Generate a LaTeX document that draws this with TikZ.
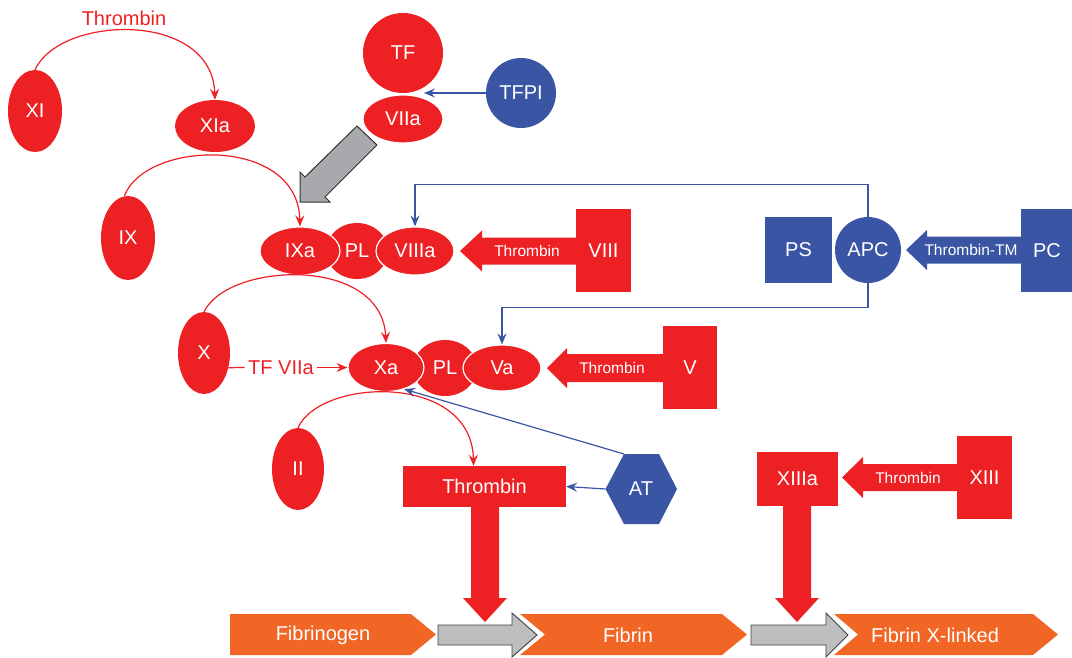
\documentclass[tikz,border=0pt]{standalone}
\usepackage{fontspec}
\setmainfont{Liberation Sans}
\usetikzlibrary{shapes.geometric,arrows.meta,calc}
\definecolor{fred}{HTML}{ED2024}
\definecolor{fblue}{HTML}{3A55A4}
\definecolor{forange}{HTML}{F16624}
\definecolor{fgray}{HTML}{A7A9AC}
\definecolor{lgray}{HTML}{BCBEC0}
\begin{document}
\begin{tikzpicture}[x=1pt,y=-1pt,
  lbl/.style={font=\fontsize{20}{24}\selectfont, text=white},
  small/.style={font=\fontsize{15.5}{18}\selectfont, text=white},
  rell/.style={ellipse, fill=fred, inner sep=0pt, lbl},
  wedge/.style={draw=white, line width=1.2pt},
  rbox/.style={rectangle, fill=fred, inner sep=0pt, lbl},
  bbox/.style={rectangle, fill=fblue, inner sep=0pt, lbl},
  redarr/.style={draw=fred, line width=1.2pt, -{Stealth[length=11pt,width=9pt,inset=4pt]}},
  bluearr/.style={draw=fblue, line width=1.2pt, -{Stealth[length=11pt,width=9pt,inset=4pt]}},
  redtxt/.style={font=\fontsize{20}{24}\selectfont, text=fred},
  chev/.style={fill=forange},
  garr/.style={fill=lgray, draw=black!75, line width=0.9pt},
]
\useasboundingbox (0,0) rectangle (1072,657);

% ---------- top: XI -> XIa ----------
\node[rell, minimum width=54pt, minimum height=82pt] (XI) at (35,111) {XI};
\node[rell, minimum width=80pt, minimum height=52pt] (XIa) at (215,126) {XIa};
\node[redtxt] (thr0) at (124,18) {Thrombin};
\draw[redarr] (XI.north) .. controls (60,15) and (212,10) .. (XIa.north);

% ---------- TF / VIIa / TFPI ----------
\node[circle, fill=fred, inner sep=0pt, minimum size=80pt, lbl] (TF) at (403,53) {TF};
\node[rell, wedge, minimum width=80pt, minimum height=48pt] (VIIa) at (403,119) {VIIa};
\node[circle, fill=fblue, inner sep=0pt, minimum size=70pt, lbl] (TFPI) at (521,93) {TFPI};
\coordinate (TFj) at (424,93);
\draw[bluearr] (TFPI.west) -- (TFj);

% big gray arrow VIIa -> IXa
\draw[fill=fgray, draw=black!80, line width=1pt, line join=miter]
  (300,202) -- (300,172) -- (305,177) -- (357,126) -- (377,145) -- (325,197) -- (330,202) -- cycle;

% ---------- IX -> IXa, PL, VIIIa ----------
\node[rell, minimum width=54pt, minimum height=84pt] (IX) at (128,238) {IX};
\node[rell, minimum width=62pt, minimum height=56pt] (PL1) at (357,251) {PL};
\node[rell, wedge, minimum width=80pt, minimum height=48pt] (IXa) at (300,251) {IXa};
\node[rell, wedge, minimum width=78pt, minimum height=48pt] (VIIIa) at (415,251) {VIIIa};
\draw[redarr] (IX.95) .. controls (145,140) and (298,135) .. (IXa.north);

\node[rbox, minimum width=55pt, minimum height=83pt] (VIII) at (603.5,250.5) {VIII};
\fill[fred] (577,237.5) -- (482,237.5) -- (482,230.5) -- (460,251) -- (482,271.5) -- (482,264.5) -- (577,264.5) -- cycle;
\node[small] (thr1) at (527,251) {Thrombin};

% ---------- PS / APC / PC ----------
\node[bbox, minimum width=67pt, minimum height=66pt] (PS) at (798.5,250) {PS};
\node[circle, fill=fblue, inner sep=0pt, minimum size=66pt, lbl] (APC) at (868,250) {APC};
\node[bbox, minimum width=52pt, minimum height=83pt] (PC) at (1047,250.5) {PC};
\fill[fblue] (1022,236.5) -- (927,236.5) -- (927,230) -- (906,250) -- (927,270) -- (927,263.5) -- (1022,263.5) -- cycle;
\node[small] (thrTM) at (971,250) {Thrombin-TM};

% ---------- X -> Xa, PL, Va ----------
\node[rell, minimum width=52pt, minimum height=82pt] (X) at (204,353) {X};
\node[rell, minimum width=64pt, minimum height=56pt] (PL2) at (445,368) {PL};
\node[rell, wedge, minimum width=76pt, minimum height=48pt] (Xa) at (386,367.5) {Xa};
\node[rell, wedge, minimum width=78pt, minimum height=46pt] (Va) at (502,368) {Va};
\draw[redarr] (X.north) .. controls (228,262) and (382,255) .. (Xa.north);
\node[redtxt] (tfv) at (281,367.5) {TF VIIa};
\draw[draw=fred, line width=1.2pt] (X.-31) -- (tfv.west);
\draw[redarr] (tfv.east) -- (Xa.west);

\node[rbox, minimum width=54pt, minimum height=83pt] (V) at (690,367.5) {V};
\fill[fred] (664,354) -- (567,354) -- (567,348) -- (547,368) -- (567,388) -- (567,382) -- (664,382) -- cycle;
\node[small] (thr2) at (612,368) {Thrombin};

% APC feedback lines
\draw[bluearr] (APC.north) -- ++(0,-32) -| (VIIIa.north);
\draw[bluearr] (APC.south) -- ++(0,24) -| (Va.north);

% ---------- II -> Thrombin, AT ----------
\node[rell, minimum width=52pt, minimum height=82pt] (II) at (298,469) {II};
\node[rbox, minimum width=163pt, minimum height=41pt] (Thr) at (484.5,486.5) {Thrombin};
\draw[redarr] (II.north) .. controls (320,378) and (472,372) .. ($(Thr.north)+(-11,0)$);
\fill[fblue] (605.5,489) -- (624,454) -- (659,454) -- (677,489) -- (659,524) -- (624,524) -- cycle;
\node[lbl, inner sep=0pt] (AT) at (641,489) {AT};
\coordinate (ATnw) at (624,454);
\draw[bluearr] (605.5,489) -- (Thr.east);
\draw[bluearr] (ATnw) -- (Xa.-50);

% ---------- XIII ----------
\node[rbox, minimum width=81pt, minimum height=54pt] (XIIIa) at (797.5,479) {XIIIa};
\node[rbox, minimum width=55pt, minimum height=83pt] (XIII) at (984.5,477.5) {XIII};
\fill[fred] (958,464) -- (863,464) -- (863,457) -- (842,477.5) -- (863,498) -- (863,491) -- (958,491) -- cycle;
\node[small] (thr3) at (908,478) {Thrombin};

% ---------- bottom row ----------
\fill[chev] (230,614) -- (411,614) -- (436,634.5) -- (411,655) -- (230,655) -- cycle;
\fill[chev] (520,614) -- (722,614) -- (747,634.5) -- (722,655) -- (520,655) -- (545,634.5) -- cycle;
\fill[chev] (834,614) -- (1033,614) -- (1058,634.5) -- (1033,655) -- (834,655) -- (858,634.5) -- cycle;
\node[lbl] (fbg) at (323,635) {Fibrinogen};
\node[lbl] (fbn) at (628,635) {Fibrin};
\node[lbl] (fbx) at (935,635) {Fibrin X-linked};
\draw[garr] (438,625) -- (512,625) -- (512,613) -- (537,635) -- (512,657) -- (512,645) -- (438,645) -- cycle;
\draw[garr] (751,625) -- (826,625) -- (826,613) -- (848,635) -- (826,657) -- (826,645) -- (751,645) -- cycle;

% big red down arrows
\fill[fred] (471,506) -- (499,506) -- (499,598) -- (507,598) -- (485,622) -- (463,598) -- (471,598) -- cycle;
\fill[fred] (783,505) -- (811,505) -- (811,598) -- (819,598) -- (797,622) -- (775,598) -- (783,598) -- cycle;
\end{tikzpicture}
\end{document}
